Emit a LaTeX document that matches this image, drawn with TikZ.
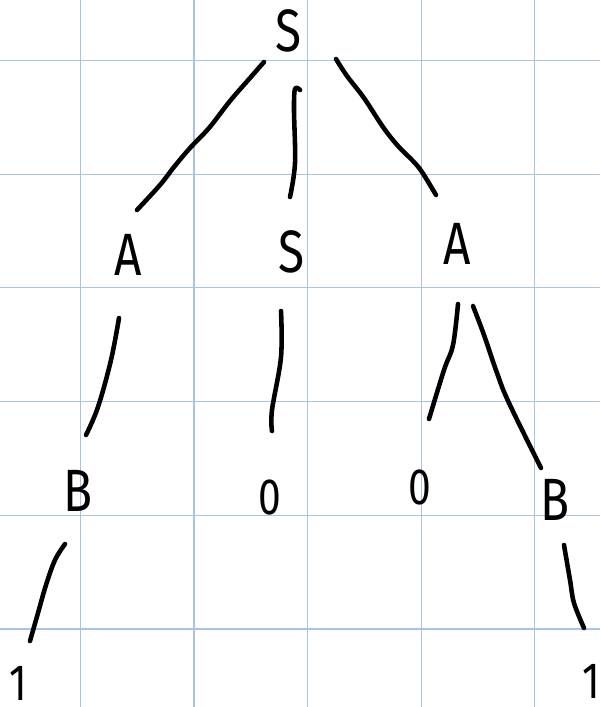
\documentclass[tikz,border=0pt]{standalone}
\usepackage{fontspec}
\setmainfont{Fira Sans}
\newfontfamily\handfont[FakeStretch=0.8]{Fira Sans}
\definecolor{gridblue}{RGB}{172,194,226}
\tikzset{
  lbl/.style={inner sep=0pt, font=\handfont\fontsize{34}{34}\selectfont},
  dig/.style={inner sep=0pt, font=\handfont\fontsize{29}{29}\selectfont},
  edge/.style={line width=2.6pt, line cap=round, line join=round},
  gridline/.style={draw=gridblue, line width=0.6pt}
}
\begin{document}
\begin{tikzpicture}[x=0.02cm,y=-0.02cm]
\useasboundingbox (0,0) rectangle (600,707);
\foreach \gx in {80.4,194,307.6,421.2,534.8} \draw[gridline] (\gx,0) -- (\gx,707);
\foreach \gy in {60.5,174.2,287.9,401.6,515.3,629} \draw[gridline] (0,\gy) -- (600,\gy);
% nodes
\node[lbl] (S0) at (289,31) {S};
\node[lbl] (A1) at (128,255) {A};
\node[lbl] (S1) at (292,252) {S};
\node[lbl] (A2) at (457,244) {A};
\node[lbl] (B1) at (78,491) {B};
\node[dig] (Z1) at (270,497) {0};
\node[dig] (Z2) at (420,488) {0};
\node[lbl] (B2) at (555,500) {B};
\node[dig] (O1) at (18,683) {1};
\node[dig] (O2) at (591,681) {1};
% edge end points
\coordinate (e1a) at (264,62);  \coordinate (e1b) at (137,210);
\coordinate (e2a) at (300,90);  \coordinate (e2b) at (290,197);
\coordinate (e3a) at (336,59);  \coordinate (e3b) at (436,195);
\coordinate (e4a) at (119,318); \coordinate (e4b) at (86,435);
\coordinate (e5a) at (281,311); \coordinate (e5b) at (272,431);
\coordinate (e6a) at (458,304); \coordinate (e6b) at (429,419);
\coordinate (e7a) at (473,306); \coordinate (e7b) at (541,468);
\coordinate (e8a) at (65,544);  \coordinate (e8b) at (30,641);
\coordinate (e9a) at (564,545); \coordinate (e9b) at (584,628);
% edges
\draw[edge] plot[smooth, tension=0.6] coordinates {(e1a) (250,78) (230,101) (209,128) (190,148) (174,167) (160,185) (e1b)};
\draw[edge] plot[smooth, tension=0.6] coordinates {(e2a) (295,89) (294,110) (295,163) (e2b)};
\draw[edge] plot[smooth, tension=0.6] coordinates {(e3a) (347,76) (364,98) (383,127) (398,146) (413,161) (422,172) (e3b)};
\draw[edge] plot[smooth, tension=0.6] coordinates {(e4a) (111,360) (98,407) (e4b)};
\draw[edge] plot[smooth, tension=0.6] coordinates {(e5a) (281,357) (272,410) (e5b)};
\draw[edge] plot[smooth, tension=0.6] coordinates {(e6a) (453,345) (444,370) (e6b)};
\draw[edge] plot[smooth, tension=0.6] coordinates {(e7a) (484,335) (497,373) (509,403) (e7b)};
\draw[edge] plot[smooth, tension=0.6] coordinates {(e8a) (55,560) (46,585) (38,613) (e8b)};
\draw[edge] plot[smooth, tension=0.6] coordinates {(e9a) (570,580) (574,603) (e9b)};
\end{tikzpicture}
\end{document}
